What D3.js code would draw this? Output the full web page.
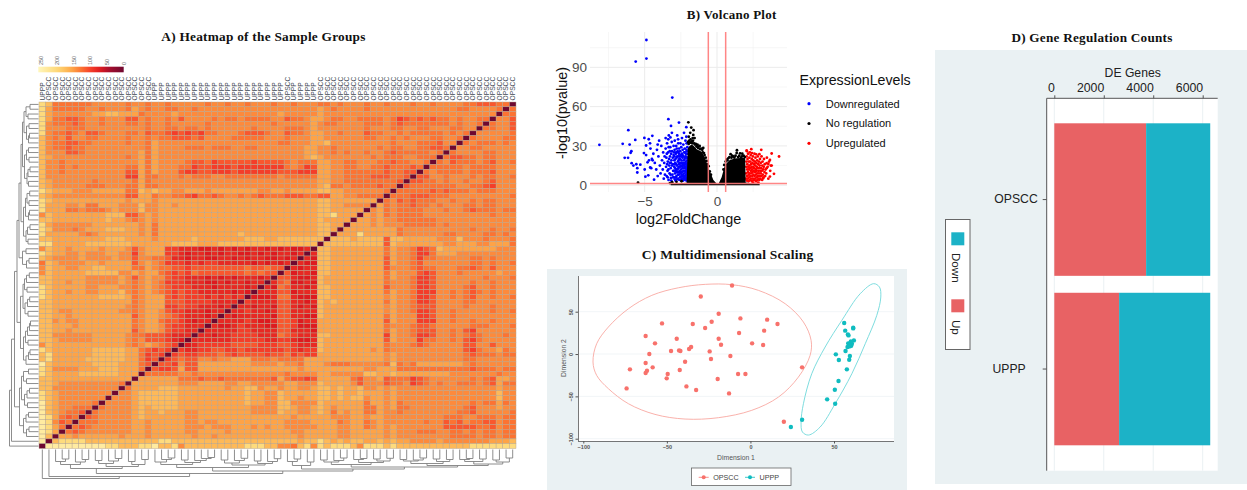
<!DOCTYPE html>
<html><head><meta charset="utf-8">
<script src="https://cdn.jsdelivr.net/npm/d3@7"></script>
<style>html,body{margin:0;padding:0;background:#fff}svg{display:block}text{font-family:"Liberation Sans",Arial,sans-serif}.t{font-family:"Liberation Serif",serif;font-weight:700;fill:#111}</style>
</head><body><svg id="c" width="1247" height="490"></svg>
<script>
// ---------- A) heatmap ----------
const colLabels = ["UPPP"].concat(Array(16).fill("OPSCC"),Array(20).fill("UPPP"),["OPSCC"],Array(4).fill("UPPP"),Array(30).fill("OPSCC"));
const levelDistance = {0:0,1:70,2:82,3:98,4:113,5:128,6:141,7:155,8:172,9:205,a:235};
const legendTicks = [250,200,150,100,50,0];
// upper-left triangle of the symmetric distance matrix (one level per cell)
const heatRows = [
"9855555566 6665665665 6666656656 6566656656 6655656665 6656665665 6666554445 5",
"9755555665 6665765665 5665666666 6666666666 6676566665 6666666666 6665566665",
"9766666677 8877756666 7666666666 6666667666 6676666666 6666666666 666666666",
"9755445665 6664465665 6466665655 6555566455 6776556655 5565345454 55656655",
"9655545665 6665565665 6666656666 6666656666 6765566665 5565455555 5565665",
"9666555666 6666665665 5655656666 6656666555 6766666665 6665566556 665566",
"9655456445 6665564554 3434355666 5444566455 6776656664 5566565555 56565",
"8656466556 6665665655 4445466665 5555666566 6776666665 5665656665 5665",
"8655445566 6665665766 6666666666 6666665566 6778666666 6665666555 466",
"8655455666 6666665766 6655565556 6556666666 7766566666 6565566554 45",
"8666445666 6666675766 6666666666 6666666666 7766565665 6654555556 5",
"8766666666 6665675766 6666666666 6666666666 7876666666 5655566555",
"8665666666 6666675766 6654453444 4434444565 5577665566 655455665",
"8665656666 6665575766 6553443334 3333333565 3477665566 55455545",
"8665666666 6664475766 6433443334 3333334443 3377665555 5545544",
"8666666666 6663375566 6565556655 5555556555 5577665555 444554",
"8766666656 6666575666 6666666666 6666666666 6677665555 55554",
"8766666555 6665575566 6666666666 6666666666 6678556555 5455",
"9877766677 7775587877 6677767777 7776677677 7788776666 665",
"8766666666 6664477566 5543554566 5654555444 5544776655 55",
"9877777777 7776777677 7777777777 7777777777 7788777777 7",
"9777667557 7766686677 6777777777 7777777777 7788776666",
"9777556555 6766686677 7777777777 7777777777 778877777",
"6877777777 8884467677 7777777777 7777777777 77889777",
"8877777777 8776567677 7777777777 7777777777 7787777",
"9766666677 7777767577 7777777777 7777777777 778877",
"9866656777 8887767577 7777777777 7777777777 77887",
"9777776567 7777767577 7777777777 8777777777 7788",
"8877777777 8887777677 7778777777 7888778888 888",
"9977777888 8888777777 8888777888 8888888888 88",
"6877677776 7776467773 3222112121 2122121211 2",
"9877667666 7766367773 3212212122 1121212212",
"8766667666 6766466554 2212211221 2122112121",
"5876666776 7777467653 3323233222 2212121222",
"6877667788 7777557655 4434444444 4544544",
"6877777888 8866767754 3435444444 454544",
"8877777666 6676467664 3322212121 22212",
"8877677666 6676567653 3322211212 2122",
"9877777667 7766567654 3332221222 212",
"9877677667 7786567654 3433222221 21",
"9877777778 8887567774 3433323232 3",
"8877777777 7777567774 4433332222",
"8877777777 7776567773 343322212",
"8876677777 7766567764 33222122",
"8877677777 7777467765 4322212",
"8867667777 7777567754 432122",
"8877767777 7777567764 33222",
"8877677777 7777467764 3322",
"8866666677 7776554443 222",
"8876666677 7776564443 21",
"6877777777 7776567654 3",
"9877777788 8887754343",
"8977777788 888775343",
"8977777888 88877534",
"a877777788 8877754",
"9866667778 887775",
"9877778888 88777",
"8877777777 7777",
"8876666666 665",
"8866666666 66",
"9876666666 6",
"9876666666",
"a87666665",
"a8766555",
"a876554",
"a97545",
"a9645",
"a975",
"a97",
"a8",
"a"];
// clustering tree of the samples: [merge height, left, right], 0 = one sample
const dendroTree = [290,0,[270,0,[240,
  [190,[150,[120,0,[95,0,0]],[125,0,[100,0,0]]],[170,[140,[110,0,0],[115,0,[90,0,0]]],[150,[120,0,0],[100,0,0]]]],
  [215,
    [180,[150,[125,0,[100,0,[85,0,0]]],[130,[105,0,0],[110,0,[90,0,[80,0,0]]]]],
         [155,[135,[105,0,0],[110,0,[88,0,0]]],[140,[115,0,0],[120,0,[92,0,0]]]]],
    [195,[160,[120,0,[95,0,0]],[125,0,0]],
      [175,[150,[125,[105,0,0],[110,0,[85,0,0]]],[130,[100,0,[90,0,0]],[115,[95,0,0],[88,0,0]]]],
           [160,[140,[115,[100,0,0],[105,0,[85,0,0]]],[120,[95,0,0],[100,0,0]]],
                [145,[120,[100,0,[90,0,0]],[95,0,0]],[125,[105,0,0],[85,0,0]]]]]]]]]];

// ---------- B) volcano ----------
const volcanoLegend = ["Downregulated","No regulation","Upregulated"];
const volcanoColors = ["#0000ff","#000000","#ff0000"];
const downPoints = [[-4.88,110.9],[-4.88,96.7],[-5.62,94.4],[-3.09,66.9],[-3.36,50.4],[-2.63,47.8],[-3.18,45.3],[-2.12,44.3],[-6.13,42],[-8.13,30.8],[-6.52,31.6],[-6.04,31],[-5.65,34.6],[-5.02,36.1],[-4.47,37.7],[-4.72,35.1],[-4.63,32],[-4.9,30.3],[-5.92,26],[-5.97,24.7],[-6.38,20.9],[-6.15,20.9],[-5.9,16.8],[-5.78,15],[-5.58,16],[-5.51,13],[-5.51,9.7],
[-4.6,28],[-4.4,24],[-4.5,20],[-4.3,17],[-4.2,12],[-4.1,7],[-4.55,13],[-4.75,7.5],[-4.95,6.5],[-4.35,4.2],[-4.45,19],[-4.15,27],[-4.05,22],[-3.95,15],[-3.9,9],[-3.85,30],[-3.8,19],[-3.75,12],[-3.72,25],[-3.68,5],[-3.65,17],[-3.6,8],[-4,34],[-4.1,31],[-3.62,22],[-5.05,24.5],[-4.9,23],[-4.7,19],[-4.8,17.5],[-5.3,15.7],[-5,12],[-4.62,13.5],[-3.55,36],
[-3.55,28],[-3.52,14],[-3.5,21],[-3.48,7],[-3.45,32],[-3.42,11],[-3.4,18],[-3.38,25],[-3.35,4],[-3.33,38],[-3.3,15],[-3.28,9],[-3.25,22],[-3.23,29],[-3.2,13],[-3.18,5.5],[-3.15,19],[-3.13,33],[-3.1,26],[-3.08,8],[-3.05,16],[-3.03,11],[-3,23],[-3,30],[-3.37,35],[-3.22,36.5],[-3.12,40],[-3.26,17],[-3.41,6],[-3.16,3.5],
[-3.47,24],[-3.44,16],[-3.36,12],[-3.31,20],[-3.27,26],[-3.21,8],[-3.17,24],[-3.11,15],[-3.06,21],[-3.04,6],[-3.34,29],[-3.19,17],
[-2.98,6],[-2.96,14],[-2.95,19],[-2.93,27],[-2.92,34],[-2.9,9],[-2.88,17],[-2.87,3.5],[-2.85,24],[-2.84,12],[-2.82,30],[-2.8,7],[-2.79,21],[-2.77,15],[-2.75,38],[-2.74,10],[-2.72,26],[-2.71,5],[-2.7,18],[-2.68,32],[-2.67,13],[-2.65,22],[-2.64,8],[-2.62,28],[-2.61,16],[-2.6,4],[-2.94,22],[-2.86,11],[-2.78,28],[-2.69,35],[-2.76,4.5],[-2.66,19],[-2.83,25],[-2.91,4.5],[-2.73,12],[-2.63,24],
[-2.99,11],[-2.97,25],[-2.89,13],[-2.87,20],[-2.81,16],[-2.75,22],[-2.7,8],[-2.65,14],[-2.62,10],[-2.6,20],[-2.85,6],[-2.78,10],[-2.93,16],[-2.68,25],
[-2.58,11],[-2.57,20],[-2.56,6],[-2.55,14],[-2.54,26],[-2.53,32],[-2.52,9],[-2.51,17],[-2.5,23],[-2.49,4],[-2.48,12],[-2.47,29],[-2.46,7],[-2.45,19],[-2.44,15],[-2.43,24],[-2.42,36],[-2.41,10],[-2.4,5],[-2.39,21],[-2.38,13],[-2.37,27],[-2.36,8],[-2.35,17],[-2.34,3.5],[-2.33,31],[-2.32,11],[-2.31,22],[-2.3,6],[-2.29,15],[-2.28,19],[-2.27,25],[-2.26,9],[-2.25,13],[-2.24,4.5],[-2.23,28],[-2.22,7],[-2.21,17],[-2.2,21],[-2.19,11],[-2.18,34],[-2.17,5],[-2.16,14],[-2.15,24],[-2.14,8],[-2.13,18],[-2.12,3.5],[-2.11,27],[-2.1,12],[-2.09,6],[-2.08,21],[-2.07,15],[-2.06,9],[-2.05,24],[-2.04,4],[-2.03,17],[-2.02,11],[-2.01,13],[-2.06,19],[-2.03,6],[-2.09,26],[-2.13,10],[-2.16,22],[-2.22,14],[-2.27,5],[-2.33,16],[-2.38,23],[-2.44,8],[-2.5,15],[-2.04,21],[-2.08,8],[-2.05,14],[-2.11,16],[-2.02,5],[-2.07,11],[-2.14,13],[-2.19,5],[-2.24,20],[-2.29,11],[-2.34,7],[-2.39,14],[-2.46,22],[-2.53,6],[-2.59,17],[-2.12,37],[-2.28,40],[-2.05,29],[-2.1,32],[-2.22,25],[-2.18,16],[-2.31,4],[-2.41,17],[-2.49,10],[-2.56,22]];
const upPoints = [[2.37,27.5],[3.06,27],[2.05,26.5],[3.78,24.2],[2.93,23.7],[4.29,21.9],[3.66,19.3],[3.43,16.8],[3.55,16.2],[3.78,15],[3.43,13],[3.94,8.7],[3.66,6.6],[3.2,5.3],[2.86,2],[2.5,2],
[2,5],[2.02,9],[2.03,14],[2.04,18],[2.05,22],[2.06,3.5],[2.08,7],[2.09,12],[2.1,16],[2.11,20],[2.13,5],[2.14,10],[2.15,24],[2.16,14],[2.18,3],[2.19,8],[2.2,18],[2.21,12],[2.22,6],[2.24,21],[2.25,15],[2.26,9],[2.28,4],[2.29,13],[2.3,18],[2.31,7],[2.33,23],[2.34,11],[2.35,16],[2.36,5],[2.38,9],[2.39,14],[2.4,20],[2.41,3],[2.43,12],[2.44,7],[2.45,17],[2.46,10],[2.48,22],[2.49,5],[2.5,14],[2.51,19],[2.52,8],[2.54,11],[2.55,4],[2.56,16],[2.58,13],[2.59,24],[2.6,7],[2.61,18],[2.63,10],[2.64,5],[2.65,15],[2.66,21],[2.68,12],[2.69,8],[2.7,3],[2.72,17],[2.73,11],[2.74,6],[2.75,14],[2.77,19],[2.78,9],[2.79,4],[2.81,13],[2.82,22],[2.83,7],[2.85,16],[2.86,11],[2.87,5],[2.89,18],[2.9,9],[2.92,13],[2.93,4],[2.95,15],[2.96,7],[2.97,20],[2.99,11],[3,5],[3.02,17],[3.03,9],[3.05,13],[3.07,7],[3.08,22],[3.1,11],[3.12,4],[3.13,15],[3.15,18],[3.17,8],[3.19,12],[3.21,6],[3.23,14],[3.25,20],[3.28,10],[3.3,16],[3.33,7],[3.36,12],[3.4,9],[3.45,21],[3.5,14],[3.55,5],[3.6,18],[3.68,11],[3.72,15],[2.07,26],[2.27,25],[2.42,24.5],[2.71,23.6]];
// upper edge of the solid cloud of non-significant genes [log2FC, -log10 p]
const noRegEnvelope = [[-3.2,1.2],[-2.6,1.5],[-2.1,1.8],[-2.02,28],[-1.9,30],[-1.75,31],[-1.6,30],[-1.4,27.5],[-1.06,25.5],[-0.83,21],[-0.6,13.5],[-0.25,4],[0,1],[0.1,1],[0.32,6],[0.55,15.5],[0.9,19.5],[1.36,20.5],[1.95,21],[1.98,2],[2.5,1.2],[2.95,1]];
const noRegPoints = [[-5.46,2],[-1.98,48],[-1.64,38.4],[-1.68,36],[-1.85,40],[-1.78,44],[-1.62,42],[-1.95,37],[-1.55,36],[-1.35,31],[-1.2,30],[-0.95,28.5],[1.38,26.7],[1.36,24.6],[0.94,23.7],[1.05,22.5],[1.6,24.3],[1.75,24],[0.72,19],[-3.1,2.3],[-2.8,2.6],[-2.45,3],[-3.25,1.6],
[-2,33],[-1.96,31.5],[-1.92,34],[-1.88,32.5],[-1.83,35],[-1.8,32.5],[-1.74,33.5],[-1.7,32],[-1.66,34],[-1.58,32],[-1.52,31],[-1.47,31.5],[-1.42,29.5],[-1.38,30],[-1.3,28.5],[-1.26,29.5],[-1.16,27.5],[-1.1,28],[-1.02,27],[-0.98,25],[-0.9,24.5],[-0.86,23],[-0.78,21],[-0.72,18.5],[-0.66,16],[-0.58,14.5],[-0.5,10.5],[-0.42,8],[0.45,12],[0.5,15.5],[0.6,18],[0.66,19.5],[0.78,20.5],[0.86,21.5],[1,21],[1.12,22],[1.2,21],[1.28,22.5],[1.46,21.5],[1.54,22.5],[1.66,21],[1.72,22],[1.84,22.5],[1.92,21.5]];
const volcanoXTicks = [-5,0];
const volcanoYTicks = [0,30,60,90];
const volcanoXMinor = [-7.5,-2.5,2.5];
const volcanoYMinor = [15,45,75,105];
const cutoffX = [-0.6,0.6];
const cutoffY = [1.3];

// ---------- C) MDS ----------
const mdsGroups = ["OPSCC","UPPP"];
const opsccPoints = [[-11,81],[-29.7,68],[-19,47.6],[-52.9,36.2],[-34.5,35.4],[-23.2,38.2],[-6,42.1],[10,40.6],[16.2,35.4],[-27.1,30.7],[8.2,27.6],[-6.8,24.8],[-62.7,21.3],[-44.1,18.1],[-19,18.1],[-57.1,12.6],[1,12.6],[-17.6,11],[7.6,10.6],[-47.5,3.5],[-42.7,4.3],[-41.9,3.5],[-36.7,5.9],[-35.5,8.3],[-24.4,3.1],[-60.5,0],[-12,-2.4],[-23.6,-5.9],[-39.1,-9.1],[-62.7,-10.6],[-58.5,-15.7],[-72.1,-18.1],[-61.9,-19.7],[-62.7,-22.4],[-42.3,-18.9],[30.9,-15.7],[-49.5,-23.6],[-7.4,-23.6],[-3,-23.6],[-50.1,-28.7],[-19.6,-29.5],[-38.3,-38.2],[-74.1,-40.6],[-32.5,-42.5],[-12.8,-46.5],[20,-79.9]];
const upppPoints = [[56.1,36.6],[56.7,27.6],[58.3,23.2],[58.7,22],[61.5,31.1],[61.5,30.3],[61.9,16.1],[60.1,15],[58.5,12.6],[60.7,12.2],[59.1,11],[60.3,9.8],[58.1,8.3],[56.9,3.5],[51.1,-0.4],[59.5,-2.4],[59.1,-6.7],[52.9,-7.1],[57.7,-18.1],[52.7,-31.9],[50.5,-42.1],[45.9,-53.5],[50.7,-58.7],[30.9,-77.6],[24.2,-86.2],[59.3,9]];
const opsccEllipse = [[-94.2,-9.4],[-92,12.2],[-85,31.9],[-73,53.5],[-59,69.3],[-43,78.3],[-27,82.3],[-11,81.9],[4.8,75.2],[20.8,59.4],[31.7,37.8],[36.3,16.1],[35.7,-1.6],[28.7,-27.2],[16.8,-50.8],[0.8,-66.5],[-19.2,-75.2],[-39.1,-76.8],[-57.1,-71.3],[-73,-58.7],[-85,-40.9],[-92,-25.2]];
const upppEllipse = [[73.7,83.1],[77.2,79.1],[78,67.3],[75.6,45.7],[68.7,12.2],[60.7,-23.2],[50.7,-58.7],[41.7,-86.2],[34.7,-95.7],[31.1,-92.1],[30.3,-80.3],[31.7,-58.7],[36.7,-23.2],[44.7,8.3],[54.7,39.8],[65.7,71.3]];
const mdsXTicks = [-100,-50,0,50];
const mdsYTicks = [-100,-50,0,50];

// ---------- D) bars ----------
const barCategories = ["OPSCC","UPPP"];
const upCounts = [3712,2620];
const downCounts = [2592,3684];
const barTicks = [0,2000,4000,6000];
const barLegend = ["Down","Up"];
const barColors = {Up:"#e86264",Down:"#1cb2c7"};

const svg = d3.select("#c");
const title = (s,x,y,size)=>svg.append("text").attr("class","t").attr("x",x).attr("y",y).attr("text-anchor","middle").attr("font-size",size).attr("letter-spacing",0.25).text(s);

// ===== Panel A =====
title("A) Heatmap of the Sample Groups",263.5,41,13.3);
const n = colLabels.length;
const hx = d3.scaleBand().domain(d3.range(n)).range([39,516]);
const hy = d3.scaleBand().domain(d3.range(n)).range([102,448.5]);
const distColor = d3.scaleLinear().domain([0,45,70,100,130,160,200,258])
  .range(["#6e0830","#a80f2c","#dd1a1f","#f63f2a","#fc7733","#feac4b","#fed877","#fff7bc"]);
const tri = heatRows.map(s=>s.replace(/ /g,""));
const cellValue = (r,c)=>{
  if (r+c===n-1) return 0;
  if (r+c<n-1) return levelDistance[tri[r][c] ?? "6"];
  return levelDistance[tri[n-1-c][n-1-r] ?? "6"];
};
const cells = d3.cross(d3.range(n),d3.range(n)).map(([r,c])=>({r,c,v:cellValue(r,c)}));
svg.append("g").selectAll("rect").data(cells).join("rect")
  .attr("x",d=>hx(d.c)).attr("y",d=>hy(d.r)).attr("width",hx.bandwidth()).attr("height",hy.bandwidth())
  .attr("fill",d=>distColor(d.v)).attr("stroke","#b8a48c").attr("stroke-width",0.45);
svg.append("g").selectAll("text").data(colLabels).join("text")
  .attr("transform",(d,i)=>`translate(${hx(i)+hx.bandwidth()/2+2.4},100.5) rotate(-90)`)
  .attr("font-size",6.7).attr("fill","#3f4a55").text(d=>d);
// legend
const lgx = d3.scaleLinear().domain([258,0]).range([38.3,123.7]);
const grad = svg.append("defs").append("linearGradient").attr("id","hg");
d3.range(0,1.0001,0.05).forEach(t=>grad.append("stop").attr("offset",t).attr("stop-color",distColor(258*(1-t))));
svg.append("rect").attr("x",lgx(258)).attr("y",66.7).attr("width",lgx(0)-lgx(258)).attr("height",5.6).attr("fill","url(#hg)");
svg.append("g").selectAll("text").data(legendTicks).join("text")
  .attr("transform",d=>`translate(${lgx(d)+1.8},65) rotate(-90)`).attr("font-size",5.5).attr("fill","#666").text(d=>d);
// dendrograms
const segs = [];
let leafIdx = 0;
(function walk(node){
  if (node===0) return {p:leafIdx++,h:0};
  const a = walk(node[1]), b = walk(node[2]), h = node[0];
  segs.push({a,b,h});
  return {p:(a.p+b.p)/2,h};
})(dendroTree);
const dh = d3.scaleLinear().domain([0,290]).range([0,29]);
const cx = p=>hx(0)+hx.step()*(p+0.5);
const cy = p=>hy(0)+hy.step()*(n-1-p+0.5);
svg.append("g").selectAll("path").data(segs).join("path").attr("fill","none")
  .attr("stroke","#808080").attr("stroke-width",0.9)
  .attr("d",d=>{const y=h=>449.5+dh(h);
    return `M${cx(d.a.p)},${y(d.a.h)}V${y(d.h)}H${cx(d.b.p)}V${y(d.b.h)}`;});
svg.append("g").selectAll("path").data(segs).join("path").attr("fill","none")
  .attr("stroke","#808080").attr("stroke-width",0.9)
  .attr("d",d=>{const x=h=>38.5-dh(h);
    return `M${x(d.a.h)},${cy(d.a.p)}H${x(d.h)}V${cy(d.b.p)}H${x(d.b.h)}`;});

// ===== Panel B =====
title("B) Volcano Plot",731.7,19,13);
const vx = d3.scaleLinear().domain([-8.78,4.84]).range([590,787]);
const vy = d3.scaleLinear().domain([-5.2,117]).range([192,32]);
const vg = svg.append("g");
vg.selectAll(".vm").data(volcanoXMinor).join("line").attr("x1",d=>vx(d)).attr("x2",d=>vx(d)).attr("y1",32).attr("y2",192).attr("stroke","#f2f2f2").attr("stroke-width",0.6);
vg.selectAll(".hm").data(volcanoYMinor).join("line").attr("y1",d=>vy(d)).attr("y2",d=>vy(d)).attr("x1",590).attr("x2",787).attr("stroke","#f2f2f2").attr("stroke-width",0.6);
vg.selectAll(".vM").data(volcanoXTicks).join("line").attr("x1",d=>vx(d)).attr("x2",d=>vx(d)).attr("y1",32).attr("y2",192).attr("stroke","#ebebeb");
vg.selectAll(".hM").data(volcanoYTicks).join("line").attr("y1",d=>vy(d)).attr("y2",d=>vy(d)).attr("x1",590).attr("x2",787).attr("stroke","#ebebeb");
const vDots = (pts,col)=>vg.append("g").selectAll("circle").data(pts).join("circle").attr("cx",d=>vx(d[0])).attr("cy",d=>vy(d[1])).attr("r",1.4).attr("fill",col);
vDots(downPoints,volcanoColors[0]);
vDots(upPoints,volcanoColors[2]);
vg.append("path").datum(noRegEnvelope).attr("fill","#000")
  .attr("d",d3.area().x(d=>vx(d[0])).y0(vy(0)).y1(d=>vy(d[1])));
vDots(noRegPoints,volcanoColors[1]);
vg.selectAll(".cx").data(cutoffX).join("line").attr("x1",d=>vx(d)).attr("x2",d=>vx(d)).attr("y1",32).attr("y2",192).attr("stroke","#ff7a7a").attr("stroke-width",1.5).attr("opacity",0.9);
vg.selectAll(".cy").data(cutoffY).join("line").attr("y1",d=>vy(d)).attr("y2",d=>vy(d)).attr("x1",590).attr("x2",787).attr("stroke","#ff7a7a").attr("stroke-width",1.5).attr("opacity",0.9);
vg.append("g").attr("transform","translate(0,192)").call(d3.axisBottom(vx).tickValues(volcanoXTicks).tickSize(0).tickPadding(4))
  .call(g=>{g.select(".domain").remove();g.selectAll("text").attr("font-size",13.5).attr("fill","#4d4d4d").attr("font-family","Liberation Sans");});
vg.append("g").attr("transform","translate(590,0)").call(d3.axisLeft(vy).tickValues(volcanoYTicks).tickSize(0).tickPadding(3))
  .call(g=>{g.select(".domain").remove();g.selectAll("text").attr("font-size",13.5).attr("fill","#4d4d4d").attr("font-family","Liberation Sans");});
vg.append("text").attr("x",688.5).attr("y",224).attr("text-anchor","middle").attr("font-size",14.4).attr("fill","#111").text("log2FoldChange");
vg.append("text").attr("transform","translate(567,113) rotate(-90)").attr("text-anchor","middle").attr("font-size",14.4).attr("fill","#111").text("-log10(pvalue)");
vg.append("text").attr("x",799.5).attr("y",85).attr("font-size",14.2).attr("fill","#111").text("ExpressionLevels");
const vLegendY = d3.scalePoint().domain(volcanoLegend).range([103.7,143.3]);
vg.selectAll(".ld").data(volcanoLegend).join("circle").attr("cx",809).attr("cy",d=>vLegendY(d)).attr("r",1.6).attr("fill",(d,i)=>volcanoColors[i]);
vg.selectAll(".lt").data(volcanoLegend).join("text").attr("x",825.7).attr("y",d=>vLegendY(d)+3.8).attr("font-size",11).attr("fill","#111").text(d=>d);

// ===== Panel C =====
title("C) Multidimensional Scaling",727.7,259,13.5);
svg.append("rect").attr("x",547).attr("y",269).attr("width",360).attr("height",221).attr("fill","#eaf1f3");
svg.append("rect").attr("x",578).attr("y",276).attr("width",316).attr("height",165).attr("fill","#fff");
const mx = d3.scaleLinear().domain([-100,50]).range([583.3,834]);
const my = d3.scaleLinear().domain([-100,50]).range([438.7,311.7]);
const mg = svg.append("g");
mg.selectAll(".g").data(mdsYTicks).join("line").attr("x1",578).attr("x2",894).attr("y1",d=>my(d)).attr("y2",d=>my(d)).attr("stroke","#eef3f5").attr("stroke-width",0.8);
const closed = d3.line().x(d=>mx(d[0])).y(d=>my(d[1])).curve(d3.curveCatmullRomClosed);
mg.append("path").attr("d",closed(opsccEllipse)).attr("fill","none").attr("stroke","#f8a8a2").attr("stroke-width",0.9);
mg.append("path").attr("d",closed(upppEllipse)).attr("fill","none").attr("stroke","#6fd8da").attr("stroke-width",0.9);
mg.append("g").selectAll("circle").data(opsccPoints).join("circle").attr("cx",d=>mx(d[0])).attr("cy",d=>my(d[1])).attr("r",2.2).attr("fill","#f8716b");
mg.append("g").selectAll("circle").data(upppPoints).join("circle").attr("cx",d=>mx(d[0])).attr("cy",d=>my(d[1])).attr("r",2.2).attr("fill","#0fbcc0");
mg.append("g").attr("transform","translate(0,441)").call(d3.axisBottom(mx).tickValues(mdsXTicks).tickSize(2.5).tickPadding(1.5))
  .call(g=>{g.select(".domain").attr("d","M578,0.5H894").attr("stroke","#555").attr("stroke-width",0.8);g.selectAll("line").attr("stroke","#555");g.selectAll("text").attr("font-size",5.5).attr("font-weight",700).attr("fill","#555").attr("font-family","Liberation Sans");});
mg.append("g").attr("transform","translate(578,0)").call(d3.axisLeft(my).tickValues(mdsYTicks).tickSize(2.5).tickPadding(1.5))
  .call(g=>{g.select(".domain").attr("d","M0.5,276V441").attr("stroke","#555").attr("stroke-width",0.8);g.selectAll("line").attr("stroke","#555");
    g.selectAll("text").attr("font-size",5.5).attr("font-weight",700).attr("fill","#555").attr("font-family","Liberation Sans").attr("dy",0).attr("text-anchor","middle").attr("x",0).attr("y",0)
     .attr("transform","translate(-5,0) rotate(-90)");});
mg.append("text").attr("x",736).attr("y",459.5).attr("text-anchor","middle").attr("font-size",6.8).attr("fill","#555").text("Dimension 1");
mg.append("text").attr("transform","translate(566,358) rotate(-90)").attr("text-anchor","middle").attr("font-size",6.8).attr("fill","#555").text("Dimension 2");
mg.append("rect").attr("x",691.5).attr("y",468).attr("width",99.5).attr("height",17.5).attr("fill","#fff").attr("stroke","#666").attr("stroke-width",0.8);
const mLegendX = d3.scaleOrdinal().domain(mdsGroups).range([703.7,750]);
mg.selectAll(".kl").data(mdsGroups).join("line").attr("x1",d=>mLegendX(d)-5).attr("x2",d=>mLegendX(d)+5).attr("y1",477.3).attr("y2",477.3).attr("stroke",(d,i)=>i?"#0fbcc0":"#f8716b").attr("stroke-width",0.8);
mg.selectAll(".kd").data(mdsGroups).join("circle").attr("cx",d=>mLegendX(d)).attr("cy",477.3).attr("r",2).attr("fill",(d,i)=>i?"#0fbcc0":"#f8716b");
mg.selectAll(".kt").data(mdsGroups).join("text").attr("x",d=>mLegendX(d)+9.5).attr("y",480).attr("font-size",7.2).attr("fill","#444").text(d=>d);

// ===== Panel D =====
title("D) Gene Regulation Counts",1092,42,13.2);
svg.append("rect").attr("x",935).attr("y",50).attr("width",312).attr("height",434).attr("fill","#eaf1f3");
svg.append("rect").attr("x",1046.7).attr("y",98.3).attr("width",171).attr("height",372.4).attr("fill","#fff");
const bx = d3.scaleLinear().domain([0,6000]).range([1054.3,1202.7]);
const by = d3.scaleBand().domain(barCategories).range([123.3,445.3]).paddingInner(0.1).paddingOuter(0);
const dg = svg.append("g");
dg.selectAll(".gl").data(barTicks).join("line").attr("x1",d=>bx(d)).attr("x2",d=>bx(d)).attr("y1",98.3).attr("y2",470.7).attr("stroke","#eaf1f3");
const stackRows = barCategories.map((c,i)=>({cat:c,Up:upCounts[i],Down:downCounts[i]}));
const series = d3.stack().keys(["Up","Down"])(stackRows);
dg.selectAll(".s").data(series).join("g").attr("fill",d=>barColors[d.key]).selectAll("rect").data(d=>d).join("rect")
  .attr("x",d=>bx(d[0])).attr("y",d=>by(d.data.cat)).attr("width",d=>bx(d[1])-bx(d[0])).attr("height",by.bandwidth());
dg.append("g").attr("transform","translate(0,98.3)").call(d3.axisTop(bx).tickValues(barTicks).tickFormat(d3.format("d")).tickSize(3).tickPadding(3))
  .call(g=>{g.select(".domain").attr("d","M1046.7,0H1217.7").attr("stroke","#555").attr("stroke-width",1);g.selectAll("line").attr("stroke","#555");g.selectAll("text").attr("font-size",12.3).attr("fill","#222").attr("font-family","Liberation Sans").attr("text-anchor","end");});
dg.append("g").attr("transform","translate(1046.7,0)").call(d3.axisLeft(by).tickSize(4).tickPadding(5))
  .call(g=>{g.select(".domain").attr("d","M0,98.3V470.7").attr("stroke","#555").attr("stroke-width",1);g.selectAll("line").attr("stroke","#555");g.selectAll("text").attr("font-size",12.2).attr("fill","#222").attr("font-family","Liberation Sans");
    g.selectAll("text").filter(d=>d==="UPPP").attr("x",-21);});
dg.append("text").attr("x",1132.7).attr("y",77).attr("text-anchor","middle").attr("font-size",12.2).attr("fill","#222").text("DE Genes");
dg.append("rect").attr("x",945.5).attr("y",219.5).attr("width",24.5).attr("height",130).attr("fill","#fff").attr("stroke","#666").attr("stroke-width",1);
const bLegendY = d3.scaleOrdinal().domain(barLegend).range([232.3,299.3]);
dg.selectAll(".ks").data(barLegend).join("rect").attr("x",951.3).attr("y",d=>bLegendY(d)).attr("width",13).attr("height",13).attr("fill",d=>barColors[d]);
dg.selectAll(".kt").data(barLegend).join("text").attr("transform",d=>`translate(952,${bLegendY(d)+20.7}) rotate(90)`).attr("font-size",11.6).attr("fill","#222").text(d=>d);
</script></body></html>
